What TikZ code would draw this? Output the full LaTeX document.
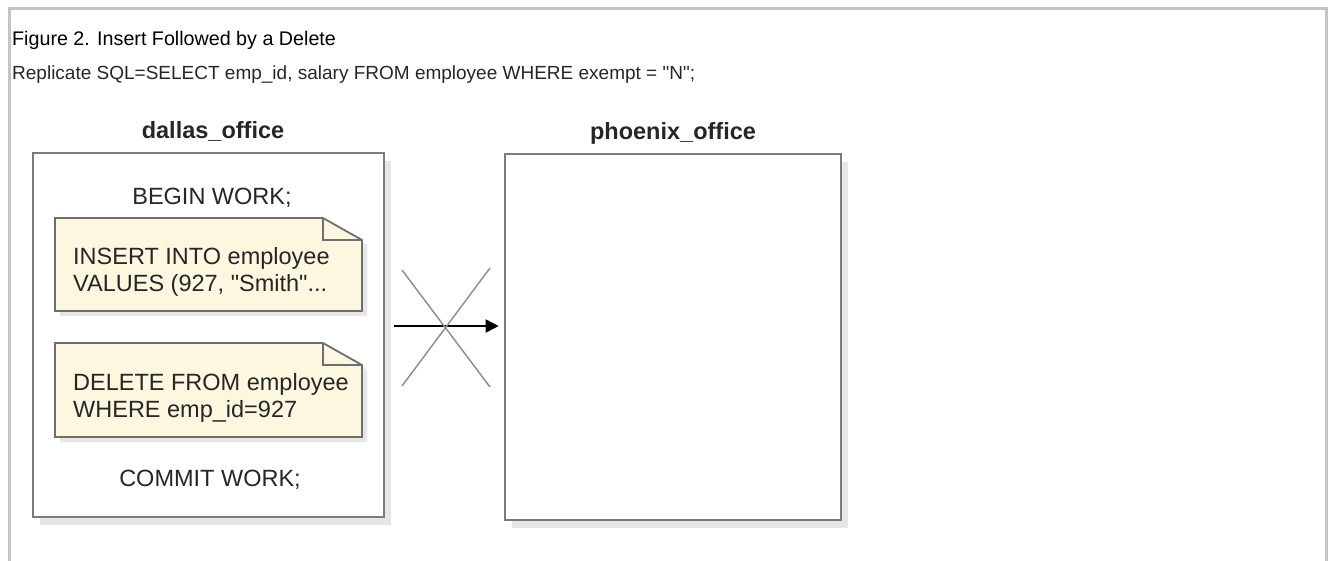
\documentclass[tikz,border=0pt]{standalone}
\usepackage{fontspec}
\setmainfont{Liberation Sans}
\usetikzlibrary{arrows.meta,calc,shadows}

\definecolor{framegray}{HTML}{C4C4C4}
\definecolor{boxline}{HTML}{7C7C7C}
\definecolor{noteline}{HTML}{6E6E6E}
\definecolor{shadowgray}{HTML}{E6E6E6}
\definecolor{notefill}{HTML}{FDF7E0}
\definecolor{txt}{HTML}{262626}

% SQL note: left, top, right, bottom (pixel units)
\newcommand\sqlnote[4]{%
  \fill[shadowgray] (#1+5,#2+5) -- (#3+5-39,#2+5) -- (#3+5,#2+5+22) -- (#3+5,#4+5) -- (#1+5,#4+5) -- cycle;
  \filldraw[fill=notefill, draw=noteline, line width=1.8pt, line join=miter]
    (#1,#2) -- (#3-39,#2) -- (#3,#2+22) -- (#3,#4) -- (#1,#4) -- cycle;
  \draw[noteline, line width=1.6pt, line join=miter] (#3-39,#2) -- (#3-39,#2+22) -- (#3,#2+22);
}

\begin{document}
\begin{tikzpicture}[x=1pt, y=-1pt,
  body/.style={font=\fontsize{23.5}{27}\selectfont, text=txt, inner sep=0pt},
  heading/.style={font=\fontsize{23.5}{27}\selectfont\bfseries, text=txt, inner sep=0pt},
  office/.style={draw=boxline, line width=2.6pt, fill=white, inner sep=0pt,
    drop shadow={shadow xshift=7pt, shadow yshift=-8pt, fill=shadowgray, opacity=1}},
  sqltext/.style={body, align=left, anchor=north west},
  flow/.style={draw=black, line width=1.6pt, -{Triangle[length=13pt, width=13pt]}},
  cross/.style={draw=boxline!85, line width=1.5pt}
]
\useasboundingbox (0,0) rectangle (1330,560);

% page frame
\draw[framegray, line width=3pt] (9,562) -- (9,8.5) -- (1326.5,8.5) -- (1326.5,562);

% captions
\node[anchor=base west, inner sep=0pt, font=\fontsize{19.7}{24}\selectfont] (title) at (12,45) {Figure 2. Insert Followed by a Delete};
\node[anchor=base west, inner sep=0pt, text=txt, font=\fontsize{19}{23}\selectfont] (sql) at (12,79)
  {Replicate SQL=SELECT emp\_id, salary FROM employee WHERE exempt = \textquotedbl N\textquotedbl;};

% offices
\node[office, minimum width=351pt, minimum height=364pt] (dallas) at (208.5,335) {};
\node[office, minimum width=336pt, minimum height=366pt] (phoenix) at (673,337) {};
\node[heading, anchor=base] (dallaslbl) at (213,138) {dallas\_office};
\node[heading, anchor=base] (phoenixlbl) at (673,139) {phoenix\_office};

% transaction in dallas_office
\node[body, anchor=base] (begin) at (212,204) {BEGIN WORK;};
\sqlnote{55}{218}{362}{311}
\node[sqltext] (ins) at (73,247) {INSERT INTO employee\\VALUES (927, \textquotedbl Smith\textquotedbl...};
\sqlnote{55}{343}{362}{437}
\node[sqltext] (del) at (73,373) {DELETE FROM employee\\WHERE emp\_id=927};
\node[body, anchor=base] (commit) at (210,486) {COMMIT WORK;};

% blocked replication
\coordinate (from) at ($(dallas.east)+(9,-9)$);
\draw[flow, shorten >=5pt] (from) -- (from -| phoenix.west);
\coordinate (x) at (446,328);
\draw[cross] ($(x)+(-44,-58)$) -- ($(x)+(44,59)$);
\draw[cross] ($(x)+(44,-60)$) -- ($(x)+(-44,58)$);
\end{tikzpicture}
\end{document}
